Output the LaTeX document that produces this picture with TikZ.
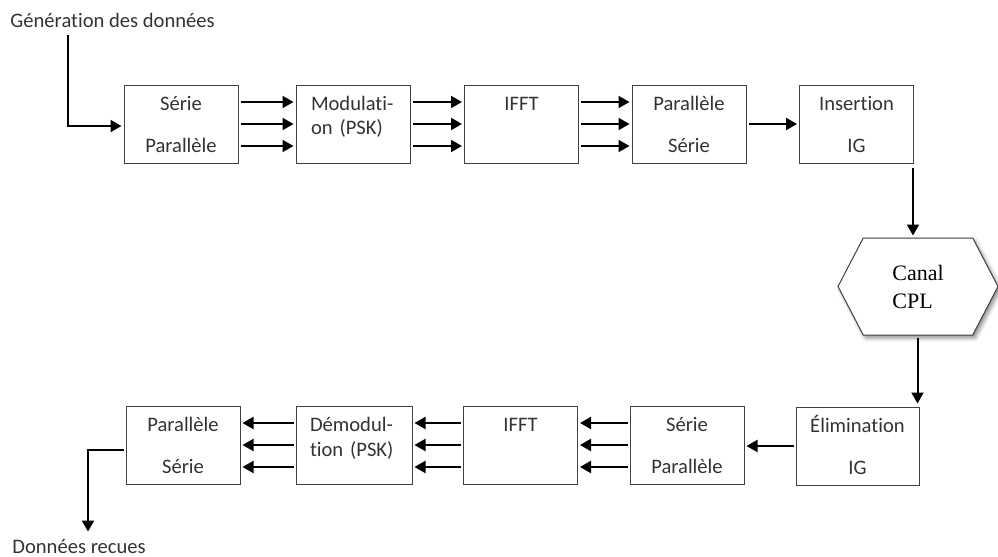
\documentclass[tikz,border=0pt]{standalone}
\usepackage{fontspec}
\setmainfont{Carlito}[Ligatures={NoCommon, NoRare}, Contextuals=NoAlternate]
\newfontfamily\serifcanal{Liberation Serif}
\usepackage{xcolor}
\definecolor{ink}{RGB}{ 51,  51,  51}
\definecolor{frame}{RGB}{ 64,  64,  64}
\usepackage{tikz}
\usetikzlibrary{
  arrows.meta, positioning,
  shapes.symbols, shadows.blur
}

\begin{document}
\begin{tikzpicture}[x=0.5pt, y=-0.5pt,
    font=\fontsize{10.3}{12.5}\selectfont, text=ink,
    block/.style={draw=frame, line width=0.5pt, text width=53pt,
      inner xsep=2pt, inner ysep=0pt, text height=12.5pt, text depth=26.5pt,
      align=center},
    arr/.style={-{Triangle[length=5.5pt, width=6pt]}, line width=1pt,
      shorten <=1pt, shorten >=1pt}
  ]
    \useasboundingbox (0,0) rectangle (998,557);

    % emission
    \node[anchor=base west, inner sep=0pt] (gen) at (10,27) {Génération des données};
    \node[block] (sp1) at (181,124) {Série\\[8.5pt]Parallèle};
    \node[block, text width=42pt, inner xsep=7.5pt, align=left] (mod) at (353,124) {Modulati-\\on (PSK)};
    \node[block] (ifft) at (521.5,124) {IFFT};
    \node[block] (ps1) at (689,124) {Parallèle\\[8.5pt]Série};
    \node[block] (ins) at (856.5,124) {Insertion\\[8.5pt]IG};

    % canal
    \node[draw=frame, line width=0.5pt, fill=white, signal, signal to=west and east,
      signal pointer angle=125, minimum width=80pt, minimum height=48.5pt,
      inner sep=0pt, align=left, text=black,
      font=\serifcanal\fontsize{11}{14}\selectfont,
      blur shadow={shadow xshift=1.2pt, shadow yshift=-1.5pt, shadow opacity=45}]
      (canal) at (918,286.5) {Canal\\CPL};

    % reception
    \node[block, text width=57.5pt] (elim) at (857.5,446) {Élimination\\[8.5pt]IG};
    \node[block] (sp2) at (687,445) {Série\\[8.5pt]Parallèle};
    \node[block] (ifft2) at (520.5,445) {IFFT};
    \node[block, text width=44pt, inner xsep=7pt, align=left] (demod) at (354,445) {Démodul-\\tion (PSK)};
    \node[block] (ps2) at (183,445) {Parallèle\\[8.5pt]Série};
    \node[anchor=base west, inner sep=0pt] (recv) at (12,553) {Données recues};

    \coordinate (drop) at ([xshift=-1pt]elim.north east);

    \draw[arr] ([xshift=29pt, yshift=-2.5pt]gen.south west) |- ([yshift=-1pt]sp1.west);
    \foreach \dy in {-11pt, 0pt, 11pt} {
      \draw[arr] ([yshift=\dy]sp1.east) -- ([yshift=\dy]mod.west);
      \draw[arr] ([yshift=\dy]mod.east) -- ([yshift=\dy]ifft.west);
      \draw[arr] ([yshift=\dy]ifft.east) -- ([yshift=\dy]ps1.west);
      \draw[arr] ([yshift=\dy]sp2.west) -- ([yshift=\dy]ifft2.east);
      \draw[arr] ([yshift=\dy]ifft2.west) -- ([yshift=\dy]demod.east);
      \draw[arr] ([yshift=\dy]demod.west) -- ([yshift=\dy]ps2.east);
    }
    \draw[arr] (ps1) -- (ins);
    \draw[arr, shorten <=2pt] ([xshift=-0.5pt]ins.south east) -- ([xshift=-0.5pt]ins.south east |- canal.north);
    \draw[arr, shorten >=1.5pt] (canal.south -| drop) -- (drop);
    \draw[arr] (elim.west) -- (elim.west -| sp2.east);
    \draw[arr] ([yshift=-2.5pt]ps2.west) -| ([xshift=38pt, yshift=2.5pt]recv.north west);
  \end{tikzpicture}
\end{document}
